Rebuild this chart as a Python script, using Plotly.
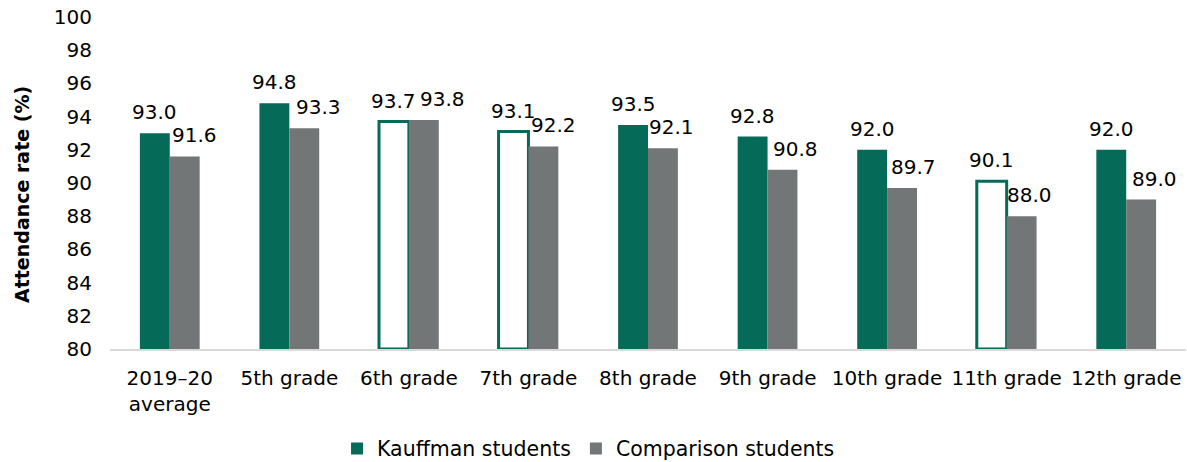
import plotly.graph_objects as go

# Attendance rates by grade level
categories = ["2019–20<br>average", "5th grade", "6th grade", "7th grade", "8th grade",
              "9th grade", "10th grade", "11th grade", "12th grade"]
kauffman = [93.0, 94.8, 93.7, 93.1, 93.5, 92.8, 92.0, 90.1, 92.0]
comparison = [91.6, 93.3, 93.8, 92.2, 92.1, 90.8, 89.7, 88.0, 89.0]
# Kauffman bars shown as outline only
outline_only = [False, False, True, True, False, False, False, True, False]

y_ticks = list(range(80, 101, 2))

GREEN = "#066A58"
GRAY = "#737677"
FONT = "DejaVu Sans, Verdana, sans-serif"
FS = 20

# horizontal nudges (px) for the comparison labels
comp_label_dx = [10, 14, 19, 10, 9, 13, 11, 8, 13]

fig = go.Figure()
fig.add_trace(go.Bar(
    name="Kauffman students",
    x=list(range(len(categories))),
    y=[v - 80 for v in kauffman],
    base=80,
    marker=dict(
        color=["white" if h else GREEN for h in outline_only],
        line=dict(color=GREEN, width=[3 if h else 0 for h in outline_only]),
    ),
))
fig.add_trace(go.Bar(
    name="Comparison students",
    x=list(range(len(categories))),
    y=[v - 80 for v in comparison],
    base=80,
    marker=dict(color=GRAY, line=dict(width=0)),
))

annotations = []
for i, v in enumerate(kauffman):
    annotations.append(dict(
        x=i - 0.125, y=v, xref="x", yref="y", text=f"{v:.1f}",
        showarrow=False, xanchor="center", yanchor="middle", yshift=21,
        font=dict(family=FONT, size=FS, color="#000000"),
    ))
for i, v in enumerate(comparison):
    annotations.append(dict(
        x=i + 0.125, y=v, xref="x", yref="y", text=f"{v:.1f}",
        showarrow=False, xanchor="center", yanchor="middle", yshift=21,
        xshift=comp_label_dx[i],
        font=dict(family=FONT, size=FS, color="#000000"),
    ))
annotations.append(dict(
    x=0, y=0.5, xref="paper", yref="paper", text="<b>Attendance rate (%)</b>",
    textangle=-90, showarrow=False, xanchor="center", yanchor="middle",
    xshift=-88, yshift=-12,
    font=dict(family=FONT, size=19, color="#000000"),
))

fig.update_layout(
    width=1187, height=462,
    margin=dict(l=110, r=1, t=17, b=113, autoexpand=False),
    paper_bgcolor="white", plot_bgcolor="white",
    barmode="group", bargap=0.5, bargroupgap=0,
    font=dict(family=FONT, size=FS, color="#000000"),
    showlegend=True,
    legend=dict(
        orientation="h", x=0.211, xanchor="left", y=-0.30, yanchor="middle",
        font=dict(family=FONT, size=20.5, color="#000000"),
        itemwidth=30, traceorder="normal",
    ),
    annotations=annotations,
    xaxis=dict(
        tickmode="array", tickvals=list(range(len(categories))), ticktext=categories,
        range=[-0.5, len(categories) - 0.5], automargin=False,
        showline=True, linecolor="#D9D9D9", linewidth=2,
        showgrid=False, zeroline=False, ticks="",
        ticklabelstandoff=10,
        tickfont=dict(family=FONT, size=FS, color="#000000"),
    ),
    yaxis=dict(
        range=[80, 100], tickvals=y_ticks, automargin=False,
        showline=False, showgrid=False, zeroline=False, ticks="",
        ticklabelstandoff=17,
        tickfont=dict(family=FONT, size=FS, color="#000000"),
    ),
)

fig.write_html("out.html")
